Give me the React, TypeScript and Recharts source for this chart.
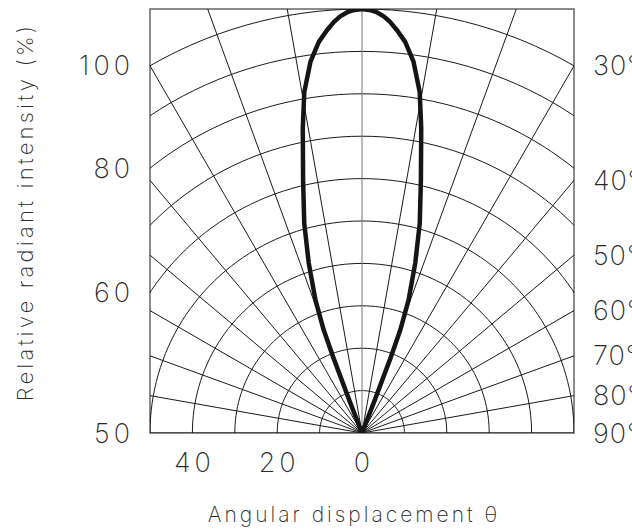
import React from 'react';
import { ComposedChart, Scatter, XAxis, YAxis, ReferenceArea } from 'recharts';

// polar grid: circles every 10 % and spokes every 10 degrees
const RADII = [10, 20, 30, 40, 50, 60, 70, 80, 90, 100];
const SPOKES = [-90, -80, -70, -60, -50, -40, -30, -20, -10, 0, 10, 20, 30, 40, 50, 60, 70, 80, 90];

// measured lobe (degrees off axis -> relative intensity %)
const LOBE_ANGLE = [0, 1, 2, 3, 3.9, 5, 6.3, 7.9, 9.6, 11, 13.1, 15.4, 17.4, 19.3, 20.4, 20.8, 21.2, 21.5];
const LOBE_INTENSITY = [100, 99.8, 99.3, 98.4, 97.2, 95.3, 92.8, 88.4, 81.6, 73.2, 61.3, 51.3, 42, 33.2, 25.9, 19.2, 8, 0];

// tick labels
const LEFT_LABELS = [100, 80, 60, 50];
const RIGHT_DEGREES = [30, 40, 50, 60, 70, 80, 90];
const BOTTOM_TICKS = [-40, -20, 0];

const HALF = 50; // half width of the box, in % units
const FONT = "Inter, 'DejaVu Sans', sans-serif";
const WEIGHT = 200;
const TEXT = '#2a2a2a';

const rad = (d: number) => (d * Math.PI) / 180;
const toXY = (deg: number, r: number) => ({ x: r * Math.sin(rad(deg)), y: r * Math.cos(rad(deg)) });

const ARC_STEPS = Array.from({ length: 91 }, (_, i) => -90 + i * 2);
const circles = RADII.map((r) => ARC_STEPS.map((a) => toXY(a, r)));
const spokes = SPOKES.map((a) => [toXY(a, 0), toXY(a, 150)]);

const rightSide = LOBE_ANGLE.map((a, i) => toXY(a, LOBE_INTENSITY[i]));
const leftSide = LOBE_ANGLE.map((a, i) => toXY(-a, LOBE_INTENSITY[i])).reverse();
const lobe = [...leftSide, ...rightSide.slice(1)];

const leftTicks = LEFT_LABELS.map((v) => Math.sqrt(v * v - HALF * HALF));
const rightTicks = RIGHT_DEGREES.map((d) => (d === 90 ? 0 : HALF / Math.tan(rad(d))));

const Empty = () => <g />;

const XTitle = (p: any) => {
  const vb = p.viewBox;
  return (
    <text x={vb.x + vb.width / 2 - 8} y={vb.y + 89} textAnchor="middle" fontFamily={FONT}
      fontWeight={WEIGHT} fontSize={21} fill={TEXT} letterSpacing={3}>
      Angular displacement θ
    </text>
  );
};

const YTitle = () => (
  <text x={33} y={212} transform="rotate(-90, 33, 212)" textAnchor="middle" fontFamily={FONT}
    fontWeight={WEIGHT} fontSize={22} fill={TEXT} letterSpacing={3.2}>
    Relative radiant intensity (%)
  </text>
);

export default function App() {
  const tick = { fontSize: 27, fill: TEXT, fontFamily: FONT, fontWeight: WEIGHT, letterSpacing: 4 };
  return (
    <div style={{ position: 'absolute', left: 0, top: 0 }}>
      <ComposedChart width={632} height={531} margin={{ top: 9, right: 0, bottom: 0, left: 0 }}>
        <XAxis type="number" dataKey="x" domain={[-HALF, HALF]} allowDataOverflow ticks={BOTTOM_TICKS}
          tickFormatter={(v: number) => String(Math.abs(v))} axisLine={false} tickLine={false}
          tickMargin={14} height={98} tick={{ ...tick, dx: 2 }} interval={0} label={XTitle} />
        <YAxis type="number" dataKey="y" domain={[0, 100]} allowDataOverflow ticks={leftTicks}
          tickFormatter={(v: number) => String(Math.round(Math.hypot(v, HALF)))} axisLine={false}
          tickLine={false} tickMargin={10} width={150} tick={tick} interval={0} label={YTitle} />
        <YAxis yAxisId="r" orientation="right" type="number" domain={[0, 100]} allowDataOverflow
          ticks={rightTicks}
          tickFormatter={(v: number) => `${Math.round(v < 1e-6 ? 90 : (Math.atan(HALF / v) * 180) / Math.PI)}°`}
          axisLine={false} tickLine={false} tickMargin={13} width={58}
          tick={{ ...tick, letterSpacing: 1 }} interval={0} />

        {circles.map((pts, i) => (
          <Scatter key={'c' + i} data={pts} shape={Empty} lineType="joint"
            line={{ stroke: '#1a1a1a', strokeWidth: 1 }} isAnimationActive={false} />
        ))}
        {spokes.map((pts, i) => (
          <Scatter key={'s' + i} data={pts} shape={Empty} lineType="joint"
            line={{ stroke: SPOKES[i] === 0 ? '#777' : '#1a1a1a', strokeWidth: 1 }} isAnimationActive={false} />
        ))}
        <ReferenceArea x1={-HALF} x2={HALF} y1={0} y2={100} fill="none" fillOpacity={0}
          stroke="#666" strokeWidth={1.5} />
        <Scatter data={lobe} shape={Empty} lineType="joint"
          line={{ stroke: '#151515', strokeWidth: 4.5, strokeLinejoin: 'round' }} isAnimationActive={false} />
      </ComposedChart>
    </div>
  );
}
